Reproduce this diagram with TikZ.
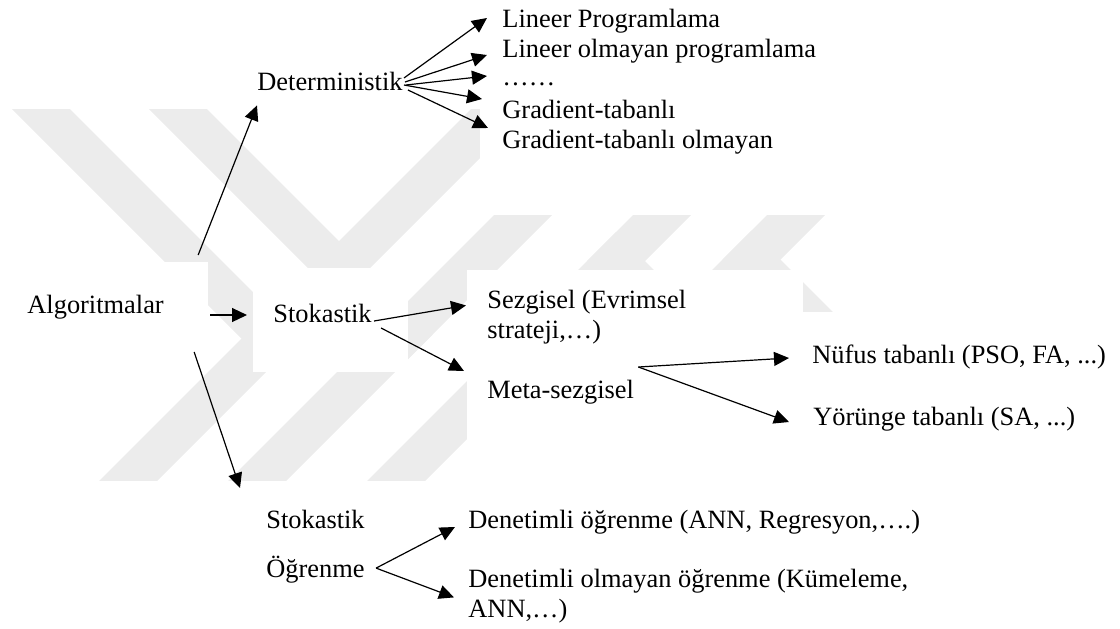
\documentclass[tikz,border=0pt]{standalone}
\usepackage{fontspec}
\setmainfont{Liberation Serif}
\usetikzlibrary{arrows.meta, calc}
\usepackage{xcolor}
\definecolor{wmgray}{RGB}{236,236,236}
\tikzset{
  lbl/.style    = {anchor=base west, inner sep=0pt, align=left,
                   font=\fontsize{13.2}{15}\selectfont},
  lbltwo/.style = {lbl, anchor=north west},
  flow/.style   = {-{Triangle[length=7.5pt, width=7pt]}, line width=0.6pt},
  wband/.style  = {fill=wmgray},
  wbox/.style   = {fill=white}
}
\begin{document}
\begin{tikzpicture}[x=0.5pt, y=-0.5pt]
\useasboundingbox (0,0) rectangle (1120,628);

% faint stripes behind the text boxes
\begin{scope}
  \clip (0,109) rectangle (1120,480);
  \foreach \c in {580,709,848,982}
    \fill[wband] ({\c-100},100) -- ({\c-42},100) -- ({\c-432},490) -- ({\c-490},490) -- cycle;
  \fill[wband] (3,100) -- (61,100) -- (299.5,338.5) -- (270.5,367.5) -- cycle;
  \fill[wband] (140,100) -- (198,100) -- (432.5,334.5) -- (403.5,363.5) -- cycle;
  \fill[wband] (616,232) -- (874,490) -- (816,490) -- (587,261) -- cycle;
  \fill[wband] (751.5,230.5) -- (1011,490) -- (953,490) -- (722.5,259.5) -- cycle;
\end{scope}
% white text boxes
\fill[wbox] (480,0) rectangle (1120,215);
\fill[wbox] (0,262) rectangle (208,360);
\fill[wbox] (253,268) rectangle (408,372);
\fill[wbox] (467,270) rectangle (803,490);
\fill[wbox] (803,312) rectangle (1120,490);

\node[lbl]    at (502,27)  (lp)   {Lineer Programlama\strut};
\node[lbl]    at (502,57)  (lop)  {Lineer olmayan programlama\strut};
\node[lbl]    at (502,85)  (dots) {……\strut};
\node[lbl]    at (502,118) (gt)   {Gradient-tabanlı\strut};
\node[lbl]    at (502,148) (gto)  {Gradient-tabanlı olmayan\strut};
\node[lbl]    at (257,90)  (det)  {Deterministik\strut};
\node[lbl]    at (27,313)  (alg)  {Algoritmalar\strut};
\node[lbl]    at (273,322) (sto)  {Stokastik\strut};
\node[lbltwo] at (487,287) (sez)  {Sezgisel (Evrimsel\strut\\strateji,…)\strut};
\node[lbl]    at (487,398) (meta) {Meta-sezgisel\strut};
\node[lbl]    at (812,363) (nuf)  {Nüfus tabanlı (PSO, FA, ...)\strut};
\node[lbl]    at (813,425) (yor)  {Yörünge tabanlı (SA, ...)\strut};
\node[lbltwo] at (266,507) (sto2) {Stokastik\strut\\[8.5pt]Öğrenme\strut};
\node[lbl]    at (468,528) (den1) {Denetimli öğrenme (ANN, Regresyon,….)\strut};
\node[lbltwo] at (468,566) (den2) {Denetimli olmayan öğrenme (Kümeleme,\strut\\ANN,…)\strut};

\draw[flow] ($(det.east)+(1,-6)$) -- ($(lp.west)+(-15,-3)$);
\draw[flow] ($(det.east)+(2,-2)$) -- ($(lop.west)+(-15,4)$);
\draw[flow] ($(det.east)+(3,1)$)  -- ($(dots.west)+(-15,-3)$);
\draw[flow] ($(det.east)+(1,1)$)  -- ($(gt.west)+(-20,-13)$);
\draw[flow] ($(det.east)+(5,6)$)  -- ($(gto.west)+(-14,-14)$);
\draw[flow] ($(alg.east)+(34,-52)$) -- ($(det.south west)+(0,6)$);
\draw[flow] ($(alg.east)+(46,8)$)   -- ($(sto.west)+(-26,-1)$);
\draw[flow] ($(alg.east)+(30,45)$)  -- ($(sto2.north west)+(-26,-19)$);
\draw[flow] ($(sto.east)+(2,5)$)    -- ($(sez.west)+(-21,-12)$);
\draw[flow] ($(sto.east)+(9,12)$)   -- ($(meta.west)+(-23,-21)$);
\draw[flow] ($(meta.east)+(4,-25)$) -- ($(nuf.west)+(-23,1)$);
\draw[flow] ($(meta.east)+(4,-25)$) -- ($(yor.west)+(-24,3)$);
\draw[flow] ($(sto2.east)+(11,21)$) -- ($(den1.west)+(-13,5)$);
\draw[flow] ($(sto2.east)+(11,21)$) -- ($(den2.west)+(-14,1)$);
\end{tikzpicture}
\end{document}
